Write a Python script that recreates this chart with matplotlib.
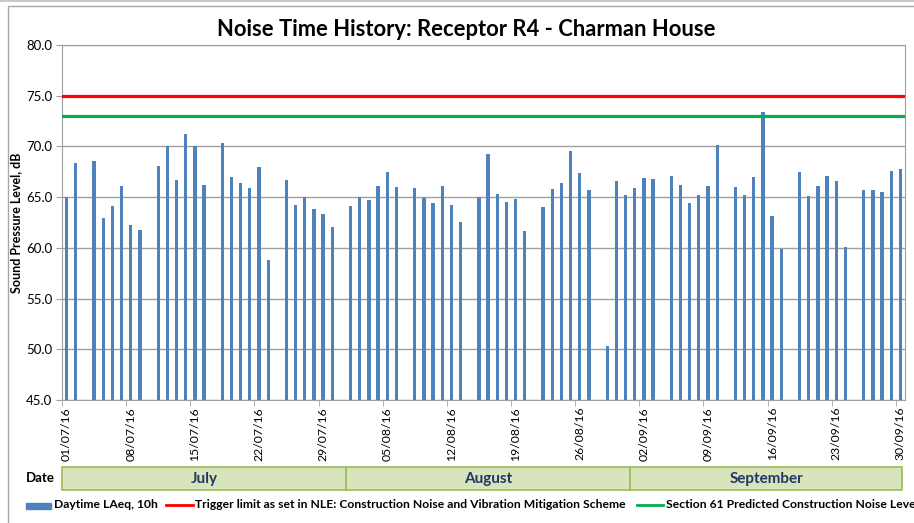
import numpy as np
import pandas as pd
import matplotlib
matplotlib.use("Agg")
import matplotlib.pyplot as plt
from matplotlib.patches import Rectangle
from matplotlib.lines import Line2D

plt.rcParams["font.family"] = ["Lato", "DejaVu Sans"]

# daily LAeq values 01/07/16 .. 30/09/16 (None = no measurement)
laeq = [
    65.0, 68.4, None, 68.6, 62.9, 64.1, 66.1, 62.3, 61.8, None,
    68.1, 70.0, 66.7, 71.2, 70.0, 66.2, None,
    70.3, 67.0, 66.4, 65.9, 68.0, 58.8, None,
    66.7, 64.2, 65.0, 63.8, 63.3, 62.1, None,
    64.1, 65.0, 64.7, 66.1, 67.5, 66.0, None,
    65.9, 64.9, 64.4, 66.1, 64.2, 62.5, None,
    65.0, 69.3, 65.3, 64.5, 64.8, 61.7, None,
    64.0, 65.8, 66.4, 69.5, 67.4, 65.7, None,
    50.3, 66.6, 65.2, 65.9, 66.9, 66.8, None,
    67.1, 66.2, 64.4, 65.2, 66.1, 70.1, None,
    66.0, 65.2, 67.0, 73.4, 63.1, 59.9, None,
    67.5, 65.1, 66.1, 67.1, 66.6, 60.1, None,
    65.7, 65.7, 65.5, 67.6, 67.8,
]
dates = pd.date_range("2016-07-01", "2016-09-30", freq="D")
trigger_limit = 75.0
section61_level = 73.0
months = ["July", "August", "September"]
month_days = [31, 31, 30]

legend_labels = [
    "Daytime LAeq, 10h",
    "Trigger limit as set in NLE: Construction Noise and Vibration Mitigation Scheme",
    "Section 61 Predicted Construction Noise Level",
]

bar_color = "#4F81BD"
grid_color = "#A0A0A0"

W, H = 914, 523
fig = plt.figure(figsize=(W / 100, H / 100), dpi=100)

# outer chart frame
fig.add_artist(Line2D([0, 1], [1 - 1 / H, 1 - 1 / H], color="#BFBFBF", lw=1.2))
fig.add_artist(Rectangle((8 / W, -0.1), 1.2, (H - 6) / H + 0.1, fill=False,
                         edgecolor="#A6A6A6", lw=1.0))

ax = fig.add_axes([62 / W, 1 - 400 / H, (905 - 62) / W, (400 - 45) / H])
x = np.arange(len(dates))
vals = np.array([np.nan if v is None else v for v in laeq])
ax.bar(x, vals, width=0.36, color=bar_color, zorder=3)
ax.axhline(trigger_limit, color="#FF0000", lw=2.3, zorder=4)
ax.axhline(section61_level, color="#00B050", lw=2.3, zorder=4)

ax.set_xlim(-0.5, len(dates) - 0.5)
ax.set_ylim(45, 80)
ax.set_yticks(np.arange(45, 80.1, 5))
ax.set_yticklabels([f"{v:.1f}" for v in np.arange(45, 80.1, 5)], fontsize=9.5)
ax.yaxis.grid(True, color=grid_color, lw=1.0, zorder=0)
ax.tick_params(axis="y", length=4, color=grid_color, pad=3)

major = x[::7]
ax.set_xticks(major)
ax.set_xticklabels([d.strftime("%d/%m/%y") for d in dates[::7]],
                   rotation=90, fontsize=8.8)
ax.set_xticks(major - 0.5, minor=True)
ax.tick_params(axis="x", which="major", length=0, pad=5)
ax.tick_params(axis="x", which="minor", length=4, color=grid_color)
for s in ax.spines.values():
    s.set_color(grid_color)

ax.set_ylabel("Sound Pressure Level, dB", fontsize=9, fontweight="bold", labelpad=3)
fig.text(466 / W, 1 - 30 / H, "Noise Time History: Receptor R4 - Charman House",
         ha="center", va="center", fontsize=15.8, fontweight="bold")

# month band
axd = fig.add_axes([62 / W, 1 - 490 / H, (905 - 62) / W, 23 / H])
axd.set_xlim(-0.5, len(dates) - 0.5)
axd.set_ylim(0, 1)
axd.axis("off")
start = -0.5
for name, n in zip(months, month_days):
    end = min(start + n, len(dates) - 0.8)
    axd.add_patch(Rectangle((start, 0), end - start, 1, facecolor="#D8E4BC",
                            edgecolor="#9BBB59", lw=1.2, clip_on=False))
    axd.text((start + end) / 2, 0.5, name, ha="center", va="center",
             fontsize=11, fontweight="bold", color="#1F3864")
    start += n
fig.text(40 / W, 1 - 478 / H, "Date", ha="center", va="center",
         fontsize=9.5, fontweight="bold")

# legend row
ly = 1 - 505 / H
fs = 8.75
fig.add_artist(Rectangle((26 / W, 1 - 509 / H), 25 / W, 6 / H, color=bar_color))
fig.text(54 / W, ly, legend_labels[0], va="center", fontsize=fs, fontweight="bold")
fig.add_artist(Line2D([166 / W, 193 / W], [ly, ly], color="#FF0000", lw=2))
fig.text(195 / W, ly, legend_labels[1], va="center", fontsize=fs, fontweight="bold")
fig.add_artist(Line2D([637 / W, 663 / W], [ly, ly], color="#00B050", lw=2))
fig.text(666 / W, ly, legend_labels[2], va="center", fontsize=fs, fontweight="bold")

fig.savefig("out.png", dpi=100)
